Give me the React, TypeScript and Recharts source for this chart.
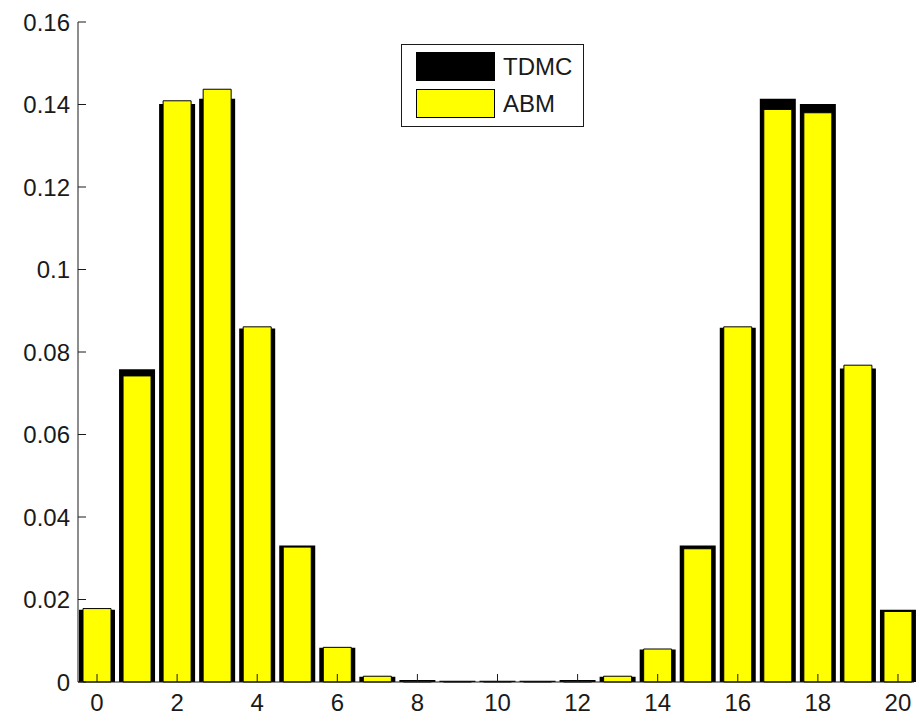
import { Bar, BarChart, XAxis, YAxis, Legend } from "recharts";

const states = [0, 1, 2, 3, 4, 5, 6, 7, 8, 9, 10, 11, 12, 13, 14, 15, 16, 17, 18, 19, 20];
const tdmc = [
  0.0175, 0.0758, 0.1401, 0.1414, 0.0857, 0.0331, 0.0083, 0.0013, 0.0005, 0.0003, 0.0003,
  0.0003, 0.0005, 0.0013, 0.0079, 0.0331, 0.0859, 0.1414, 0.1401, 0.076, 0.0175,
];
const abm = [
  0.0178, 0.0742, 0.1409, 0.1437, 0.0861, 0.0327, 0.0084, 0.0014, 0.0002, 0.0001, 0.0001,
  0.0001, 0.0002, 0.0014, 0.008, 0.0323, 0.0861, 0.1388, 0.138, 0.0768, 0.0171,
];
const yTicks = [0, 0.02, 0.04, 0.06, 0.08, 0.1, 0.12, 0.14, 0.16];
const legendOrder = ["TDMC", "ABM"];

const data = states.map((n, i) => ({ n, tdmc: tdmc[i], abm: abm[i] }));

const FONT = '"Liberation Sans", Arial, sans-serif';
const INK = "#1a1a1a";
const TICK = 8;
// bars spill a little past the frame, like the matlab figure
const XPAD = { left: -1, right: -4 };

const fmt = (v: number) => (v === 0 ? "0" : String(+v.toFixed(2)));

// ticks point inwards, MATLAB style
const BottomTick = ({ x, y, payload }: any) => (
  <g>
    <line x1={x} y1={y} x2={x} y2={y - TICK} stroke={INK} />
    <text x={x} y={y + 29} textAnchor="middle" fontSize={24} fontFamily={FONT} fill={INK}>
      {payload.value}
    </text>
  </g>
);

const TopTick = ({ x, y }: any) => <line x1={x} y1={y} x2={x} y2={y + TICK} stroke={INK} />;

const LeftTick = ({ x, y, payload }: any) => (
  <g>
    <line x1={x} y1={y} x2={x + TICK} y2={y} stroke={INK} />
    <text x={x - 8} y={y} dy="0.36em" textAnchor="end" fontSize={24} fontFamily={FONT} fill={INK}>
      {fmt(payload.value)}
    </text>
  </g>
);

const RightTick = ({ x, y }: any) => <line x1={x - TICK} y1={y} x2={x} y2={y} stroke={INK} />;

const LegendBox = ({ payload }: any) => {
  const items = [...(payload || [])].sort(
    (a: any, b: any) => legendOrder.indexOf(a.value) - legendOrder.indexOf(b.value)
  );
  return (
    <div
      style={{
        position: "relative",
        width: 183,
        height: 83,
        boxSizing: "border-box",
        border: `1px solid ${INK}`,
        background: "#fff",
        fontFamily: FONT,
      }}
    >
      {items.map((entry: any, i: number) => (
        <div key={entry.value} style={{ position: "absolute", left: 14, top: 7 + i * 37, height: 29 }}>
          <div
            style={{
              position: "absolute",
              left: 0,
              top: 0,
              width: 79,
              height: 29,
              boxSizing: "border-box",
              background: entry.color,
              border: "1px solid #000",
            }}
          />
          <span
            style={{
              position: "absolute",
              left: 87,
              top: 0,
              lineHeight: "29px",
              fontSize: 24,
              color: INK,
              whiteSpace: "nowrap",
            }}
          >
            {entry.value}
          </span>
        </div>
      ))}
    </div>
  );
};

export default function App() {
  return (
    <div style={{ position: "absolute", left: 0, top: 0, width: 922, height: 715, background: "#fff" }}>
      <BarChart
        width={922}
        height={715}
        data={data}
        margin={{ top: 22, right: 8, bottom: 0, left: 0 }}
      >
        <XAxis
          xAxisId="bottom"
          dataKey="n"
          height={33}
          interval={1}
          padding={XPAD}
          tickSize={0}
          tickMargin={0}
          tick={BottomTick}
          axisLine={{ stroke: INK }}
        />
        <XAxis
          xAxisId="top"
          dataKey="n"
          orientation="top"
          height={0}
          interval={1}
          padding={XPAD}
          tickSize={0}
          tickMargin={0}
          tick={TopTick}
          axisLine={{ stroke: INK }}
        />
        <YAxis
          yAxisId="left"
          width={78}
          domain={[0, 0.16]}
          ticks={yTicks}
          tickSize={0}
          tickMargin={0}
          tick={LeftTick}
          axisLine={{ stroke: INK }}
        />
        <YAxis
          yAxisId="right"
          orientation="right"
          width={0}
          domain={[0, 0.16]}
          ticks={yTicks}
          tickSize={0}
          tickMargin={0}
          tick={RightTick}
          axisLine={{ stroke: INK }}
        />
        <Legend
          layout="horizontal"
          verticalAlign="middle"
          align="center"
          content={LegendBox}
          wrapperStyle={{ left: 401, top: 44, width: 183, height: 83 }}
        />
        <Bar
          dataKey="tdmc"
          name="TDMC"
          xAxisId="bottom"
          yAxisId="left"
          fill="#000000"
          barSize={36}
          isAnimationActive={false}
        />
        <Bar
          dataKey="abm"
          name="ABM"
          xAxisId="top"
          yAxisId="left"
          fill="#ffff00"
          stroke="#000000"
          strokeWidth={1}
          barSize={28}
          isAnimationActive={false}
        />
      </BarChart>
    </div>
  );
}
